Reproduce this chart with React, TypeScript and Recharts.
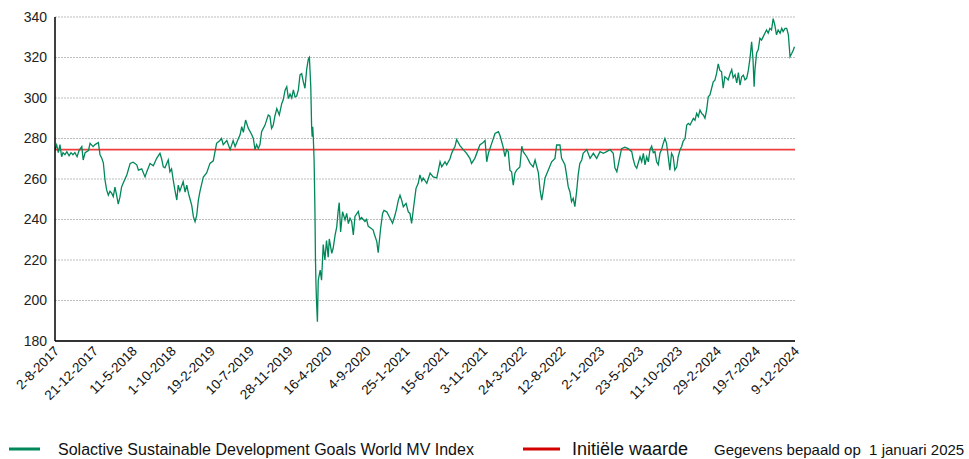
import React from "react";
import { LineChart, Line, XAxis, YAxis, CartesianGrid, ReferenceLine } from "recharts";

// Days since 2-8-2017
const dayOffsets: number[] = [
  0, 6, 12, 18, 24, 29, 36, 43, 51, 58, 65, 72, 80, 87, 97, 102, 109, 121, 127, 138, 145, 157, 163, 169, 175, 181, 187, 193, 199, 205,
  211, 217, 223, 229, 235, 241, 247, 260, 272, 283, 296, 302, 314, 326, 332, 344, 356, 368, 380, 386, 392, 398, 410, 416, 422, 428, 434, 441, 446, 452,
  464, 471, 477, 483, 489, 495, 501, 507, 513, 519, 525, 537, 549, 561, 573, 585, 597, 603, 609, 622, 634, 645, 652, 664, 670, 676, 682, 690, 700, 712,
  718, 724, 730, 736, 742, 748, 754, 760, 772, 778, 784, 790, 796, 803, 812, 821, 826, 833, 839, 845, 851, 857, 863, 869, 875, 881, 887, 893, 899, 905,
  911, 917, 921, 926, 929, 931, 933, 935, 938, 941, 943, 945, 947, 950, 953, 960, 965, 971, 977, 983, 989, 993, 1002, 1007, 1014, 1020, 1025, 1029, 1034, 1041,
  1050, 1056, 1062, 1068, 1074, 1080, 1086, 1098, 1104, 1110, 1122, 1128, 1134, 1143, 1152, 1155, 1165, 1170, 1179, 1186, 1191, 1201, 1213, 1222, 1231, 1237, 1243, 1249, 1255, 1261,
  1271, 1279, 1285, 1291, 1297, 1307, 1315, 1321, 1328, 1333, 1346, 1358, 1369, 1382, 1388, 1394, 1400, 1412, 1418, 1430, 1436, 1442, 1448, 1454, 1466, 1478, 1490, 1502, 1508, 1520,
  1538, 1550, 1557, 1563, 1569, 1581, 1593, 1605, 1611, 1617, 1622, 1629, 1635, 1641, 1647, 1653, 1659, 1665, 1671, 1683, 1690, 1695, 1708, 1720, 1731, 1738, 1750, 1756, 1762, 1767,
  1774, 1786, 1798, 1810, 1816, 1828, 1834, 1846, 1852, 1858, 1864, 1870, 1876, 1882, 1889, 1894, 1900, 1907, 1912, 1925, 1937, 1949, 1961, 1973, 1985, 1997, 2009, 2021, 2027, 2034,
  2045, 2051, 2063, 2075, 2088, 2093, 2100, 2106, 2118, 2124, 2130, 2136, 2142, 2148, 2154, 2160, 2166, 2172, 2178, 2184, 2190, 2196, 2202, 2208, 2214, 2220, 2226, 2232, 2238, 2244,
  2251, 2256, 2263, 2269, 2274, 2281, 2287, 2293, 2299, 2311, 2317, 2323, 2329, 2335, 2341, 2347, 2353, 2359, 2365, 2371, 2377, 2383, 2389, 2395, 2401, 2407, 2413, 2419, 2425, 2432,
  2437, 2444, 2450, 2455, 2462, 2468, 2474, 2480, 2486, 2492, 2498, 2504, 2510, 2516, 2522, 2527, 2531, 2534, 2540, 2546, 2552, 2558, 2564, 2570, 2576, 2582, 2588, 2594, 2600, 2606,
  2612, 2618, 2625, 2631, 2636, 2643, 2649, 2655, 2661, 2667, 2673, 2677,
];

const indexValues: number[] = [
  274.5, 276.8, 273, 277, 271, 273, 272, 273.5, 271.5, 273, 272, 273, 271, 274, 276, 269.4, 273, 274, 277.6, 276, 277, 278, 272, 270.4, 268, 259.5, 254.6, 252, 254, 253,
  251.3, 256, 252, 247.6, 251, 256, 258, 262, 267.7, 268.3, 267, 264.4, 265, 261, 263.5, 267.7, 266.5, 270.2, 272.7, 270, 266, 265.5, 269.4, 263.6, 265, 259.5, 254.6, 249.6, 257, 254,
  258.7, 253.5, 257, 253, 250, 247, 241.4, 238.9, 242, 249.6, 254, 261, 263, 267.7, 269, 277.6, 279, 280, 277, 279, 274.5, 279, 276, 280, 281.8, 285.8, 283, 289.1, 285, 282,
  280, 274.5, 277, 275, 277, 283.4, 285, 286.5, 291.6, 291, 285, 286.5, 291, 294.8, 291.6, 297.3, 299, 303.9, 305.6, 299.7, 302, 300, 304, 300.5, 301, 304, 311.4, 312, 308, 304.8,
  314, 319.1, 320, 305.6, 285.8, 280.9, 285.8, 280.9, 269.4, 244.7, 220, 207, 198.8, 189.5, 210, 215, 210, 227.6, 220, 229.6, 221.4, 230.4, 223.3, 225.8, 232.3, 236.4, 244, 248.3, 233.9, 243.8,
  239.8, 243, 238, 240.6, 239, 232.4, 241.5, 244, 240, 241, 239, 240, 236.6, 235.8, 234.8, 233.2, 229.1, 223.6, 235.8, 243, 244.5, 243.8, 240.6, 238.1, 242.2, 245.5, 249.6, 252, 249.6, 246.3,
  248, 243.8, 243, 238.1, 244.7, 255.4, 257.9, 262, 259, 260.5, 257.9, 262.9, 261, 260.5, 264.4, 268.5, 266, 268.5, 267, 270, 272.7, 274.5, 276, 279.5, 276.5, 274.5, 272.7, 270.2, 267.7, 270.2,
  276.8, 278, 279, 268.5, 272.7, 277.6, 282.5, 283.4, 281.5, 278.5, 276, 271, 274.5, 273.5, 264.4, 263.6, 257, 262.9, 264.4, 266, 276.2, 273.5, 271, 267.7, 266, 269.4, 263, 254.6, 249.6, 253.7,
  260.5, 264.4, 268.5, 270.2, 276.8, 276.8, 270.2, 267, 262, 256.2, 253.7, 248.8, 250.5, 246.3, 254.6, 262, 267.7, 269.4, 272.7, 274.5, 270.2, 272.7, 270.2, 273.5, 272.7, 273.5, 274.5, 272.7, 265.5, 263.6,
  270.9, 275, 275.7, 275, 273.5, 270, 266.5, 265.3, 271, 268.5, 272.7, 267, 271, 268.5, 274.5, 276.2, 273, 273.5, 268.5, 267, 272.7, 274.5, 277.6, 280, 277.6, 271, 264.4, 272.7, 271, 264.4,
  266, 271, 274.5, 276.2, 278.6, 280, 286.7, 287.5, 286.7, 289.9, 289, 292.4, 290.8, 294, 292.4, 291.6, 290, 294, 300.6, 301.5, 304.7, 308, 308.8, 312, 316.8, 313.6, 313, 304.8, 310.5, 309.7,
  308.9, 312, 314, 310, 311.5, 307.5, 312.5, 306.4, 310.5, 311.3, 309, 309.7, 313.6, 319.6, 327.8, 319, 305.6, 314, 322.2, 323.9, 329.5, 328.6, 330.3, 332, 333.6, 332, 334.4, 333.6, 339.2, 336,
  331.2, 333.6, 332, 334.4, 332.8, 334.4, 334.4, 331.2, 320.4, 322, 323.7, 325.3,
];

const tickDays: number[] = [0, 141, 282, 423, 564, 705, 846, 987, 1128, 1269, 1410, 1551, 1692, 1833, 1974, 2115, 2256, 2397, 2538, 2679];
const tickLabels: string[] = [
  "2-8-2017", "21-12-2017", "11-5-2018", "1-10-2018", "19-2-2019", "10-7-2019", "28-11-2019", "16-4-2020", "4-9-2020", "25-1-2021",
  "15-6-2021", "3-11-2021", "24-3-2022", "12-8-2022", "2-1-2023", "23-5-2023", "11-10-2023", "29-2-2024", "19-7-2024", "9-12-2024",
];
const yTicks: number[] = [180, 200, 220, 240, 260, 280, 300, 320, 340];
const initialValue = 274.5;

const seriesName = "Solactive Sustainable Development Goals World MV Index";
const refName = "Initiële waarde";
const dateNote = "Gegevens bepaald op  1 januari 2025";

const data = dayOffsets.map((d, i) => ({ day: d, value: indexValues[i] }));

const FONT = "'Liberation Sans', Arial, sans-serif";

const XTick = (props: any) => {
  const { x, y, payload } = props;
  const idx = tickDays.indexOf(payload.value);
  const label = idx >= 0 ? tickLabels[idx] : "";
  return (
    <g transform={`translate(${x + 5},${y + 11})`}>
      <text transform="rotate(-45)" textAnchor="end" fontFamily={FONT} fontSize={13.5} fill="#111">
        {label}
      </text>
    </g>
  );
};

export default function App() {
  return (
    <div style={{ position: "absolute", left: 0, top: 0, width: 969, height: 459, background: "#fff", overflow: "hidden" }}>
      <LineChart width={969} height={420} data={data} margin={{ top: 17, right: 174, bottom: 19, left: 0 }}>
        <CartesianGrid horizontal vertical={false} stroke="#bdbdbd" strokeDasharray="2 1" />
        <XAxis
          dataKey="day"
          type="number"
          domain={[0, 2679]}
          ticks={tickDays}
          interval={0}
          height={60}
          tickLine={false}
          tickSize={0}
          tickMargin={0}
          axisLine={{ stroke: "#333", strokeWidth: 2 }}
          tick={<XTick />}
        />
        <YAxis
          type="number"
          domain={[180, 340]}
          ticks={yTicks}
          width={55}
          tickLine={false}
          tickSize={0}
          tickMargin={8}
          axisLine={{ stroke: "#000", strokeWidth: 1.5 }}
          tick={{ fontFamily: FONT, fontSize: 14, fill: "#222" }}
        />
        <ReferenceLine y={initialValue} stroke="#f03c3c" strokeWidth={1.6} ifOverflow="visible" />
        <Line
          type="linear"
          dataKey="value"
          stroke="#00875a"
          strokeWidth={1.3}
          dot={false}
          isAnimationActive={false}
        />
      </LineChart>
      <svg width={969} height={39} style={{ position: "absolute", left: 0, top: 420 }}>
        <line x1={9} x2={40} y1={29} y2={29} stroke="#00875a" strokeWidth={3} />
        <text x={58} y={35} fontFamily={FONT} fontSize={16} fill="#111">{seriesName}</text>
        <line x1={523} x2={560} y1={29} y2={29} stroke="#d40000" strokeWidth={3} />
        <text x={572} y={35} fontFamily={FONT} fontSize={18} fill="#111">{refName}</text>
        <text x={714} y={35} fontFamily={FONT} fontSize={15} fill="#111" style={{ whiteSpace: "pre" }}>
          {dateNote}
        </text>
      </svg>
    </div>
  );
}
